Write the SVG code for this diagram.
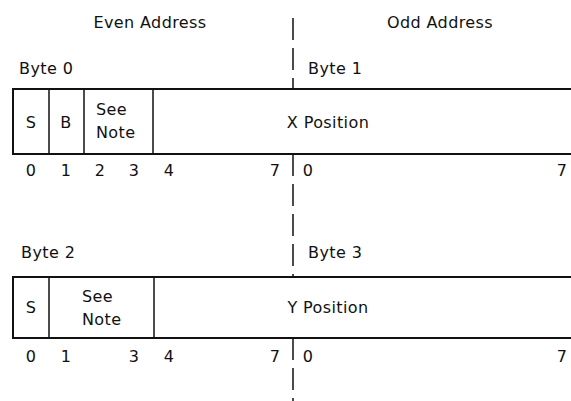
<svg xmlns="http://www.w3.org/2000/svg" width="571" height="401" viewBox="0 0 571 401">
<style>
text{font-family:"DejaVu Sans","Liberation Sans",sans-serif;font-size:16px;fill:#111;letter-spacing:0.4px}
.c{text-anchor:middle}
.h{fill:none;stroke:#111;stroke-width:2}
.v{stroke:#111;stroke-width:1.5}
.d{stroke:#111;stroke-width:1.5;stroke-dasharray:22 8;fill:none}
</style>
<rect width="571" height="401" fill="#fff"/>
<g id="headers">
<text class="c" x="150" y="28">Even Address</text>
<text class="c" x="440" y="28">Odd Address</text>
</g>
<g id="divider">
<line class="d" x1="293" y1="18" x2="293" y2="89"/>
<line class="d" x1="293" y1="154" x2="293" y2="277"/>
<line class="d" x1="293" y1="338" x2="293" y2="401"/>
</g>
<g id="word0">
<text x="19" y="74">Byte 0</text>
<text x="308" y="74">Byte 1</text>
<path class="h" d="M573 89H13V154H573"/>
<line class="v" x1="49" y1="89" x2="49" y2="154"/>
<line class="v" x1="84" y1="89" x2="84" y2="154"/>
<line class="v" x1="153" y1="89" x2="153" y2="154"/>
<text class="c" x="31" y="128">S</text>
<text class="c" x="66" y="128">B</text>
<text x="96" y="115">See</text>
<text x="96" y="138">Note</text>
<text class="c" x="328" y="128">X Position</text>
<text class="c" x="31" y="176">0</text>
<text class="c" x="66" y="176">1</text>
<text class="c" x="100" y="176">2</text>
<text class="c" x="134" y="176">3</text>
<text class="c" x="169" y="176">4</text>
<text class="c" x="275" y="176">7</text>
<text class="c" x="308" y="176">0</text>
<text class="c" x="562" y="176">7</text>
</g>
<g id="word1">
<text x="21" y="258">Byte 2</text>
<text x="308" y="258">Byte 3</text>
<path class="h" d="M573 277H13V338H573"/>
<line class="v" x1="49" y1="277" x2="49" y2="338"/>
<line class="v" x1="154" y1="277" x2="154" y2="338"/>
<text class="c" x="31" y="313">S</text>
<text x="82" y="302">See</text>
<text x="82" y="325">Note</text>
<text class="c" x="328" y="313">Y Position</text>
<text class="c" x="31" y="362">0</text>
<text class="c" x="66" y="362">1</text>
<text class="c" x="134" y="362">3</text>
<text class="c" x="169" y="362">4</text>
<text class="c" x="275" y="362">7</text>
<text class="c" x="308" y="362">0</text>
<text class="c" x="562" y="362">7</text>
</g>
</svg>
